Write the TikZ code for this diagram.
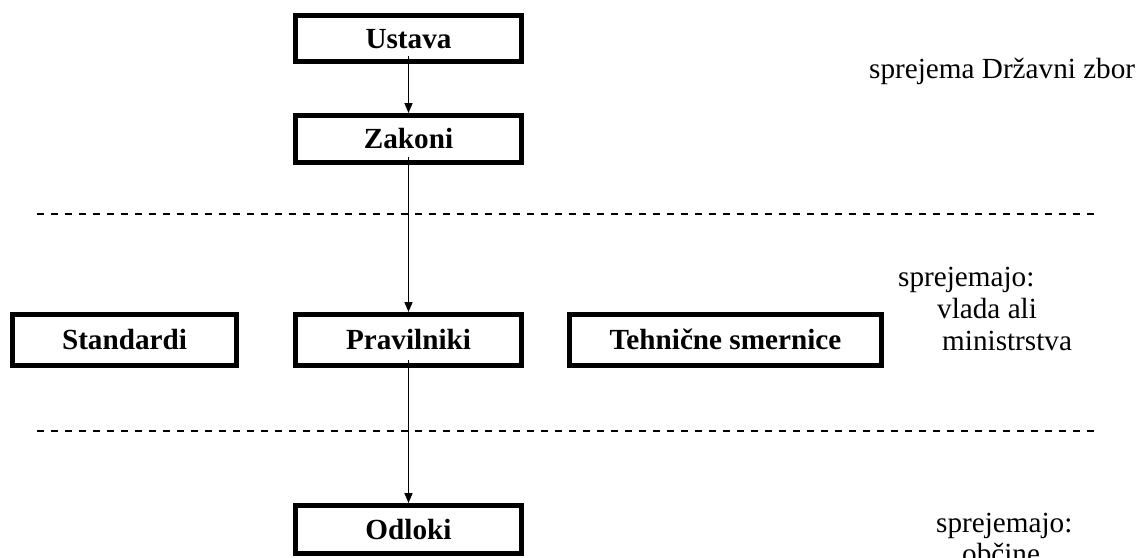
\documentclass[tikz,border=0pt]{standalone}
\usepackage{fontspec}
\setmainfont{Liberation Serif}
\usetikzlibrary{arrows.meta}
\begin{document}
\begin{tikzpicture}[x=1pt,y=-1pt,
  level/.style={draw, line width=5pt, inner sep=0pt,
    text height=19.5pt, text depth=0.5pt,
    font=\fontsize{29.2}{33}\selectfont\bfseries},
  note/.style={anchor=base west, inner sep=0pt,
    font=\fontsize{29.2}{33}\selectfont},
  conn/.style={line width=1.5pt, -{Triangle[width=8pt,length=10pt]}},
  divider/.style={line width=2pt, dash pattern=on 7pt off 7pt}]
\useasboundingbox (0,0) rectangle (1138,557);

% central chain of legal acts
\node[level, minimum width=226pt, minimum height=46pt] (ustava) at (408.5,38.5) {Ustava};
\node[level, minimum width=226pt, minimum height=47pt] (zakoni) at (408.5,139) {Zakoni};
\node[level, minimum width=224pt, minimum height=51pt] (standardi) at (124.5,340) {Standardi};
\node[level, minimum width=226pt, minimum height=51pt] (pravilniki) at (408.5,340) {Pravilniki};
\node[level, minimum width=312pt, minimum height=51pt] (smernice) at (725.5,340) {Tehnične smernice};
\node[level, minimum width=226pt, minimum height=48pt] (odloki) at (408.5,529.5) {Odloki};

\draw[conn] ([yshift=8pt]ustava.south) -- (zakoni.north);
\draw[conn] ([yshift=8pt]zakoni.south) -- (pravilniki.north);
\draw[conn] ([yshift=8pt]pravilniki.south) -- (odloki.north);

% level separators
\coordinate (d1a) at (37,214);
\coordinate (d1b) at (1095,214);
\coordinate (d2a) at (37,431);
\coordinate (d2b) at (1095,431);
\draw[divider] (d1a) -- (d1b);
\draw[divider] (d2a) -- (d2b);

% who adopts each level
\node[note] (t1) at (869,78) {sprejema Državni zbor};
\node[note] (t2) at (898,286) {sprejemajo:};
\node[note] (t3) at (937,318) {vlada ali};
\node[note] (t4) at (942,350) {ministrstva};
\node[note] (t5) at (936,532) {sprejemajo:};
\node[note] (t6) at (962,563) {občine};
\end{tikzpicture}
\end{document}
